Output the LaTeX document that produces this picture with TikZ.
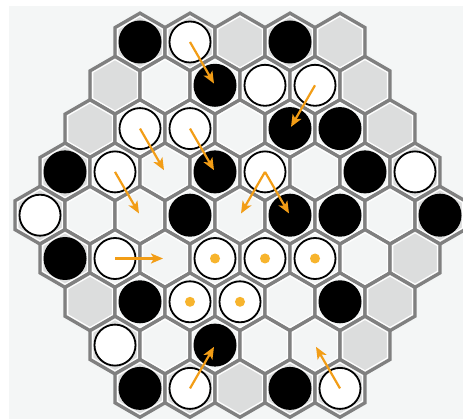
\documentclass[tikz,border=0pt]{standalone}
\usepackage{tikz}
\usetikzlibrary{arrows.meta, shapes.geometric}

\definecolor{hexline}{RGB}{128,128,128}
\definecolor{rimcell}{RGB}{220,221,221}
\definecolor{midcell}{RGB}{243,245,245}
\definecolor{boardbg}{RGB}{244,246,246}
\definecolor{movec}{RGB}{242,157,22}
\definecolor{dotc}{RGB}{247,180,45}

\begin{document}
\begin{tikzpicture}[x=1pt, y=-1pt, >={Stealth[length=12pt, width=10pt, inset=3pt]}]
        \tikzstyle{hexcell}=[regular polygon, regular polygon sides=6, shape border rotate=30, minimum size=57.7pt, inner sep=0pt, draw=hexline, line width=3.3pt]
        \tikzstyle{hexrim}=[regular polygon, regular polygon sides=6, shape border rotate=30, minimum size=51.5pt, inner sep=0pt, draw=white, line width=1.1pt]
        \tikzstyle{wstone}=[circle, draw=black, line width=1.8pt, fill=white, minimum size=41pt, inner sep=0pt]
        \tikzstyle{bstone}=[circle, fill=black, minimum size=43pt, inner sep=0pt]
        \tikzstyle{seldot}=[circle, fill=dotc, minimum size=10pt, inner sep=0pt]
        \tikzstyle{movearrow}=[->, draw=movec, line width=2.2pt, shorten >=2pt]

        \useasboundingbox (0,0) rectangle (463,419);
        \clip (0,0) rectangle (463,419);
        \fill[boardbg] (9,6) rectangle (463,419);

        % board cells, row by row
        \foreach \r in {1,...,9} {
            \pgfmathtruncatemacro{\n}{9-abs(\r-5)}
            \foreach \k in {1,...,\n} {
                \pgfmathsetmacro{\x}{240-(\n-1)*25+(\k-1)*50}
                \pgfmathsetmacro{\y}{42+(\r-1)*43.3}
                \pgfmathtruncatemacro{\edge}{(\r==1)||(\r==9)||(\k==1)||(\k==\n)}
                \ifnum\edge=1 \def\cc{rimcell}\else\def\cc{midcell}\fi
                \node[hexcell, fill=\cc] (c-\r-\k) at (\x,\y) {};
                \node[hexrim] at (c-\r-\k) {};
            }
        }

        % stones
        \foreach \r/\k/\s in {1/1/bstone, 1/2/wstone, 1/4/bstone,
                2/3/bstone, 2/4/wstone, 2/5/wstone,
                3/2/wstone, 3/3/wstone, 3/5/bstone, 3/6/bstone,
                4/1/bstone, 4/2/wstone, 4/4/bstone, 4/5/wstone, 4/7/bstone, 4/8/wstone,
                5/1/wstone, 5/4/bstone, 5/6/bstone, 5/7/bstone, 5/9/bstone,
                6/1/bstone, 6/2/wstone, 6/4/wstone, 6/5/wstone, 6/6/wstone,
                7/2/bstone, 7/3/wstone, 7/4/wstone, 7/6/bstone,
                8/1/wstone, 8/3/bstone,
                9/1/bstone, 9/2/wstone, 9/4/bstone, 9/5/wstone}
            \node[\s] (p-\r-\k) at (c-\r-\k) {};

        % selected group
        \foreach \r/\k in {6/4, 6/5, 6/6, 7/3, 7/4}
            \node[seldot] (d-\r-\k) at (p-\r-\k) {};

        % moves
        \draw[movearrow] (p-1-2.center) -- (c-2-3.center);
        \draw[movearrow] (p-2-5.center) -- (c-3-5.center);
        \draw[movearrow] (p-3-2.center) -- (c-4-3.center);
        \draw[movearrow] (p-3-3.center) -- (c-4-4.center);
        \draw[movearrow] (p-4-2.center) -- (c-5-3.center);
        \draw[movearrow] (p-4-5.center) -- (c-5-5.center);
        \draw[movearrow] (p-4-5.center) -- (c-5-6.center);
        \draw[movearrow] (p-6-2.center) -- (c-6-3.center);
        \draw[movearrow] (p-9-2.center) -- (c-8-3.center);
        \draw[movearrow] (p-9-5.center) -- (c-8-5.center);
    \end{tikzpicture}
\end{document}
